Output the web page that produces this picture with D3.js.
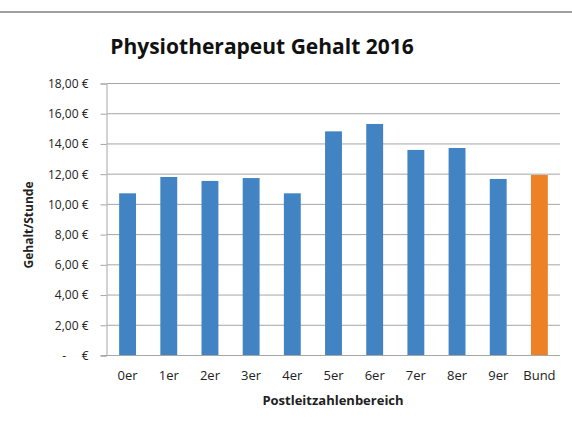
<!DOCTYPE html>
<html>
<head>
<meta charset="utf-8">
<script src="https://cdn.jsdelivr.net/npm/d3@7"></script>
<style>
  body { margin: 0; background: #fff; }
  text { font-family: "Open Sans", "Noto Sans", sans-serif; fill: #222; }
</style>
</head>
<body>
<svg></svg>
<script>
// Physiotherapeut Gehalt 2016, per Postleitzahlenbereich

var width = 572;
var height = 421;

var regions = ["0er", "1er", "2er", "3er", "4er", "5er", "6er", "7er", "8er", "9er", "Bund"];
var wages = [10.70, 11.78, 11.52, 11.71, 10.70, 14.80, 15.29, 13.57, 13.70, 11.65, 11.91];
var yTicks = [0, 2, 4, 6, 8, 10, 12, 14, 16, 18];

var plotLeft = 107, plotRight = 560, plotTop = 83, plotBottom = 355;

var xScale = d3.scaleBand()
                .domain(regions)
                .range([plotLeft, plotRight])
                .paddingInner(0.59)
                .paddingOuter(0.295);

var yScale = d3.scaleLinear()
                .domain([0, 18])
                .range([plotBottom, plotTop]);

var svg = d3.select('svg')
              .attr('width', width)
              .attr('height', height);

// grey rule at the top
svg.append('rect')
    .attr('x', 0).attr('y', 11)
    .attr('width', width).attr('height', 2)
    .attr('fill', '#a0a0a0');

svg.append('text')
    .attr('x', 262)
    .attr('y', 54)
    .style('text-anchor', 'middle')
    .style('font-size', '21px')
    .style('font-weight', 'bold')
    .style('fill', '#111')
    .text('Physiotherapeut Gehalt 2016');

// gridlines
svg.append('g')
    .selectAll('line')
    .data(yTicks.filter(d => d > 0))
    .enter()
    .append('line')
      .attr('x1', plotLeft).attr('x2', plotRight)
      .attr('y1', d => yScale(d) + 0.5).attr('y2', d => yScale(d) + 0.5)
      .attr('stroke', '#a6a6a6');

// Excel accounting style: zero shown as a dash
var fmt = d => d === 0 ? '-\u00a0\u00a0\u00a0\u00a0\u00a0€' : d3.format('.2f')(d).replace('.', ',') + ' €';

var yAxis = svg.append('g')
    .attr('transform', 'translate(' + (plotLeft - 0.5) + ', 0.5)')
    .call(d3.axisLeft(yScale).tickValues(yTicks).tickSize(6).tickPadding(12).tickFormat(fmt));
yAxis.select('.domain').attr('stroke', '#a6a6a6');
yAxis.selectAll('.tick line').attr('stroke', '#a6a6a6');
yAxis.selectAll('text').style('font-size', '12px').style('font-family', '"Open Sans", sans-serif').style('fill', '#222');

svg.selectAll('rect.bar')
    .data(regions)
    .enter()
    .append('rect')
      .attr('class', 'bar')
      .attr('x', d => xScale(d))
      .attr('y', (d, i) => yScale(wages[i]))
      .attr('width', xScale.bandwidth())
      .attr('height', (d, i) => plotBottom - yScale(wages[i]))
      .attr('fill', d => d === 'Bund' ? '#ed8125' : '#4283c3');

var xAxis = svg.append('g')
    .attr('transform', 'translate(0,' + (plotBottom + 0.5) + ')')
    .call(d3.axisBottom(xScale).tickSize(0).tickPadding(15));
xAxis.select('.domain').attr('stroke', '#a6a6a6').attr('d', 'M' + (plotLeft - 6) + ',0H' + plotRight);
xAxis.selectAll('text').style('font-size', '13px').style('font-family', '"Open Sans", sans-serif').style('fill', '#222');

svg.append('text')
    .attr('x', 333)
    .attr('y', 405)
    .style('text-anchor', 'middle')
    .style('font-size', '13px')
    .style('font-weight', 'bold')
    .text('Postleitzahlenbereich');

svg.append('text')
    .attr('transform', 'rotate(-90)')
    .attr('x', -225)
    .attr('y', 33)
    .style('text-anchor', 'middle')
    .style('font-size', '12px')
    .style('font-weight', 'bold')
    .text('Gehalt/Stunde');
</script>
</body>
</html>
